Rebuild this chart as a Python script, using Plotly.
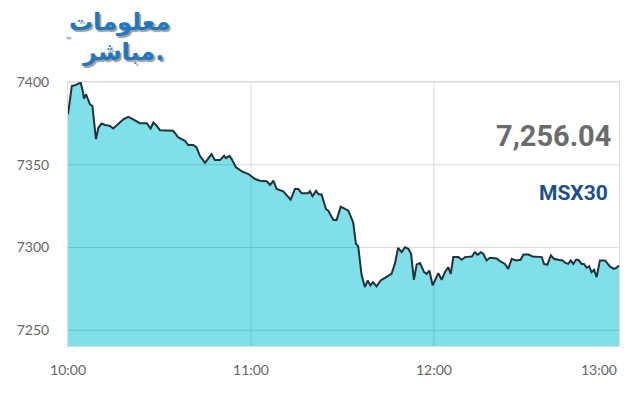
import plotly.graph_objects as go

DAY = "2024-01-01 "

times = [
    "10:00:00", "10:01:15", "10:02:15", "10:03:20", "10:04:10", "10:04:50", "10:05:15", "10:05:55",
    "10:06:40", "10:07:10", "10:08:00", "10:09:10", "10:10:00", "10:11:00", "10:12:10", "10:13:45",
    "10:14:50", "10:16:30", "10:18:10", "10:19:45", "10:20:55", "10:23:35", "10:25:50", "10:27:05",
    "10:28:00", "10:29:05", "10:30:10", "10:34:30", "10:36:10", "10:38:20", "10:39:25", "10:41:05",
    "10:42:10", "10:43:15", "10:44:55", "10:47:05", "10:48:10", "10:49:50", "10:51:10", "10:51:50",
    "10:52:55", "10:53:40", "10:55:05", "10:57:00", "10:59:10", "11:01:20", "11:02:55", "11:05:10",
    "11:06:15", "11:07:20", "11:08:25", "11:10:35", "11:11:55", "11:13:00", "11:14:25", "11:15:30",
    "11:16:35", "11:18:45", "11:19:20", "11:20:10", "11:21:20", "11:22:05", "11:23:10", "11:24:35",
    "11:25:20", "11:27:00", "11:28:05", "11:29:25", "11:30:50", "11:31:55", "11:33:30", "11:34:25",
    "11:35:10", "11:36:15", "11:37:20", "11:38:15", "11:39:10", "11:40:00", "11:41:10", "11:42:30",
    "11:43:55", "11:46:05", "11:47:10", "11:48:15", "11:49:25", "11:50:30", "11:51:35", "11:52:30",
    "11:53:25", "11:54:20", "11:55:25", "11:56:45", "11:57:35", "11:58:30", "11:59:35", "12:00:40",
    "12:01:25", "12:02:30", "12:03:35", "12:04:40", "12:05:30", "12:06:20", "12:08:00", "12:09:05",
    "12:10:10", "12:12:25", "12:13:25", "12:14:20", "12:15:20", "12:16:10", "12:17:15", "12:18:20",
    "12:20:30", "12:21:40", "12:23:15", "12:24:20", "12:25:30", "12:26:55", "12:28:25", "12:29:20",
    "12:30:55", "12:32:20", "12:35:20", "12:36:05", "12:37:10", "12:38:20", "12:39:20", "12:40:45",
    "12:42:10", "12:43:00", "12:44:00", "12:44:50", "12:45:40", "12:46:35", "12:47:20", "12:48:25",
    "12:49:10", "12:50:05", "12:50:55", "12:51:40", "12:52:30", "12:53:20", "12:54:25", "12:56:05",
    "12:57:40", "12:59:00", "12:59:55", "13:00:40",
]

values = [
    7380.5, 7397.6, 7398.0, 7399.2, 7399.6, 7394.6, 7390.0, 7392.6,
    7388.8, 7386.6, 7385.5, 7365.5, 7372.5, 7374.9, 7374.0, 7373.5,
    7371.9, 7374.9, 7377.5, 7378.9, 7377.9, 7375.1, 7375.1, 7371.9,
    7375.5, 7373.5, 7370.9, 7370.5, 7366.5, 7364.5, 7361.9, 7361.9,
    7360.5, 7355.4, 7351.2, 7356.4, 7352.8, 7352.8, 7355.4, 7354.0,
    7355.4, 7353.4, 7348.4, 7346.0, 7344.4, 7341.4, 7340.4, 7340.0,
    7337.8, 7340.4, 7335.4, 7334.0, 7331.3, 7328.9, 7335.4, 7335.4,
    7332.8, 7332.8, 7334.0, 7331.0, 7334.3, 7332.3, 7331.9, 7323.3,
    7322.3, 7316.7, 7316.7, 7324.7, 7323.3, 7322.3, 7315.2, 7302.2,
    7300.6, 7283.5, 7276.1, 7280.0, 7277.1, 7279.1, 7276.5, 7280.1,
    7281.7, 7284.1, 7290.1, 7299.8, 7297.2, 7300.2, 7299.2, 7296.2,
    7280.5, 7289.8, 7290.6, 7285.1, 7284.1, 7286.1, 7277.1, 7282.1,
    7284.5, 7280.5, 7285.1, 7288.1, 7284.1, 7294.2, 7294.2, 7292.6,
    7294.2, 7294.6, 7297.2, 7295.6, 7297.2, 7296.2, 7292.2, 7293.8,
    7293.4, 7291.8, 7290.1, 7287.1, 7293.2, 7292.2, 7292.6, 7295.8,
    7295.8, 7294.6, 7294.2, 7290.1, 7289.6, 7295.2, 7293.2, 7292.6,
    7292.2, 7290.8, 7290.1, 7292.2, 7290.1, 7292.6, 7292.6, 7290.1,
    7290.1, 7287.8, 7288.6, 7285.1, 7286.6, 7282.1, 7292.2, 7292.2,
    7288.6, 7287.1, 7287.8, 7289.2,
]

x_tick_times = ["10:00", "11:00", "12:00", "13:00"]
x_tick_labels = ["10:00", "11:00", "12:00", "13:00"]
y_tick_vals = [7250, 7300, 7350, 7400]
y_range = [7240.5, 7400]
x_range = ["10:00:00", "13:00:40"]

last_value_text = "7,256.04"
index_name = "MSX30"
logo_line1 = "معلومات"
logo_line2 = "مباشر."

xs = [DAY + t for t in times]

fig = go.Figure()
fig.add_trace(go.Scatter(
    x=xs, y=values, mode="lines",
    line=dict(color="#22313a", width=2),
    fill="tozeroy", fillcolor="#7fe0ea",
    hoverinfo="skip", showlegend=False,
))

grid_col = "rgba(0,0,0,0.14)"
shapes = []
for v in y_tick_vals:
    shapes.append(dict(type="line", xref="paper", yref="y", x0=0, x1=1, y0=v, y1=v,
                       line=dict(color=grid_col, width=1), layer="above"))
for t in x_tick_times[1:3]:
    shapes.append(dict(type="line", xref="x", yref="paper", x0=DAY + t, x1=DAY + t, y0=0, y1=1,
                       line=dict(color=grid_col, width=1), layer="above"))

logo_font = dict(family="DejaVu Sans", size=24, color="#1f78c4",
                 shadow="2px 2px 1px #9e9e9e")
annotations = [
    dict(text=f"<b>{last_value_text}</b>", xref="paper", yref="paper", x=0.99, y=0.795,
         xanchor="right", yanchor="middle", showarrow=False,
         font=dict(family="Roboto", size=29, color="#6b6b6b")),
    dict(text=f"<b>{index_name}</b>", xref="paper", yref="paper", x=0.984, y=0.58,
         xanchor="right", yanchor="middle", showarrow=False,
         font=dict(family="Roboto", size=21, color="#1d4f8c")),
    dict(text=x_tick_labels[3], xref="paper", yref="paper", x=1.0, y=-0.09,
         xanchor="right", yanchor="middle", showarrow=False,
         font=dict(family="Lato", size=14, color="#666666")),
    dict(text=f"<b>{logo_line1}</b>", xref="paper", yref="paper",
         x=0.094, y=1.227, xanchor="center", yanchor="middle",
         showarrow=False, font=logo_font),
    dict(text=f"<b>{logo_line2}</b>", xref="paper", yref="paper",
         x=0.10, y=1.115, xanchor="center", yanchor="middle",
         showarrow=False, font=logo_font),
    dict(text="™", xref="paper", yref="paper", x=0.0, y=1.16, xanchor="center",
         yanchor="middle", showarrow=False, font=dict(size=7, color="#1f78c4")),
]

fig.update_layout(
    width=640, height=400,
    margin=dict(l=68, r=21, t=82, b=54),
    paper_bgcolor="white", plot_bgcolor="white",
    shapes=shapes, annotations=annotations,
    xaxis=dict(range=[DAY + x_range[0], DAY + x_range[1]], type="date",
               tickvals=[DAY + t for t in x_tick_times[:3]], ticktext=x_tick_labels[:3],
               showgrid=False, zeroline=False, showline=True, linecolor="#dddddd",
               mirror=True, ticks="", ticklabelstandoff=11,
               tickfont=dict(family="Lato", size=14, color="#666666")),
    yaxis=dict(range=y_range, tickvals=y_tick_vals, showgrid=False, zeroline=False,
               showline=True, linecolor="#dddddd", mirror=True, ticks="",
               ticklabelstandoff=15,
               tickfont=dict(family="Lato", size=14, color="#666666")),
)

fig.write_html("out.html", config={"displayModeBar": False},
               post_script="document.body.style.margin='0';")
